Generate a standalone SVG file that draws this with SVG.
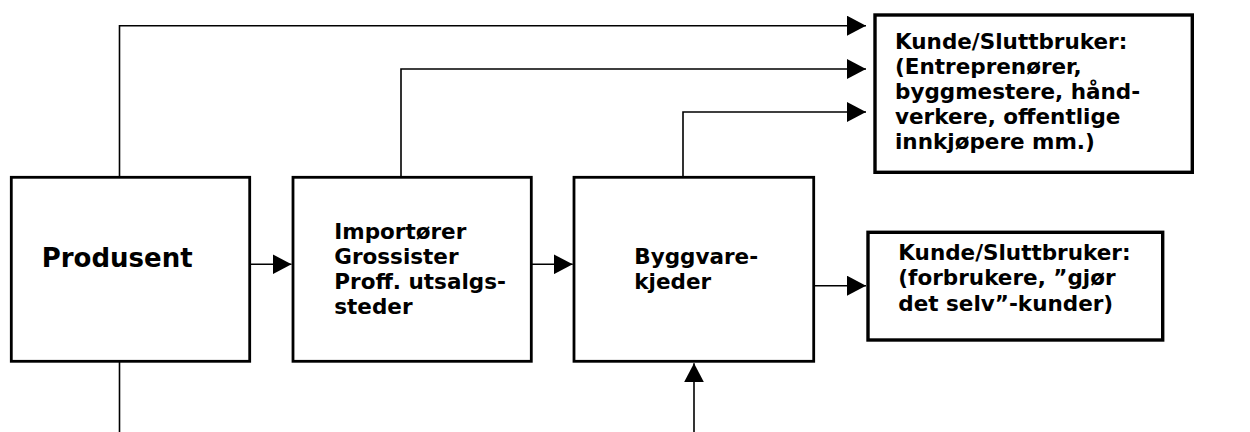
<svg xmlns="http://www.w3.org/2000/svg" width="1250" height="432" viewBox="0 0 1250 432">
<style>
.box{fill:#fff;stroke:#000;stroke-width:2.8}
.kbox{fill:#fff;stroke:#000;stroke-width:3.4}
.t{font-family:"DejaVu Sans",Verdana,sans-serif;font-weight:bold;font-size:21.5px;fill:#000}
.big{font-size:26px}
.c{fill:none;stroke:#000;stroke-width:1.6}
</style>
<defs>
<marker id="ah" markerUnits="userSpaceOnUse" markerWidth="20" markerHeight="20" refX="19" refY="10" orient="auto">
<path d="M0,0 L19,10 L0,20 Z" fill="#000"/>
</marker>
</defs>
<rect width="1250" height="432" fill="#fff"/>
<g id="connectors">
<path class="c" d="M119.5,177 V25.7 H866" marker-end="url(#ah)"/>
<path class="c" d="M401,177 V69 H866" marker-end="url(#ah)"/>
<path class="c" d="M683,177 V112 H866" marker-end="url(#ah)"/>
<path class="c" d="M250,264.3 H291.5" marker-end="url(#ah)"/>
<path class="c" d="M531,264.3 H572.7" marker-end="url(#ah)"/>
<path class="c" d="M813,285.7 H866" marker-end="url(#ah)"/>
<path class="c" d="M694,432 V363.3" marker-end="url(#ah)"/>
<path class="c" d="M119.5,361 V432"/>
</g>
<g id="produsent">
<rect class="box" x="11.3" y="177.3" width="238.4" height="184"/>
<text class="t big" x="41.7" y="266.7">Produsent</text>
</g>
<g id="importorer">
<rect class="box" x="293" y="177.3" width="238.3" height="184"/>
<text class="t" x="334.3" y="239">Importører</text>
<text class="t" x="334.3" y="264">Grossister</text>
<text class="t" x="334.3" y="289">Proff. utsalgs-</text>
<text class="t" x="334.3" y="314">steder</text>
</g>
<g id="byggvarekjeder">
<rect class="box" x="574" y="177.3" width="239.7" height="184"/>
<text class="t" x="634.3" y="264">Byggvare-</text>
<text class="t" x="634.3" y="288.5">kjeder</text>
</g>
<g id="kunde1">
<rect class="kbox" x="875" y="15" width="317.3" height="157.3"/>
<text class="t" x="895" y="49">Kunde/Sluttbruker:</text>
<text class="t" x="895" y="74">(Entreprenører,</text>
<text class="t" x="895" y="99">byggmestere, hånd-</text>
<text class="t" x="895" y="124">verkere, offentlige</text>
<text class="t" x="895" y="149">innkjøpere mm.)</text>
</g>
<g id="kunde2">
<rect class="kbox" x="868" y="232.3" width="294.7" height="107.7"/>
<text class="t" x="898.3" y="259.5">Kunde/Sluttbruker:</text>
<text class="t" x="898.3" y="285">(forbrukere, ”gjør</text>
<text class="t" x="898.3" y="310.5">det selv”-kunder)</text>
</g>
</svg>
